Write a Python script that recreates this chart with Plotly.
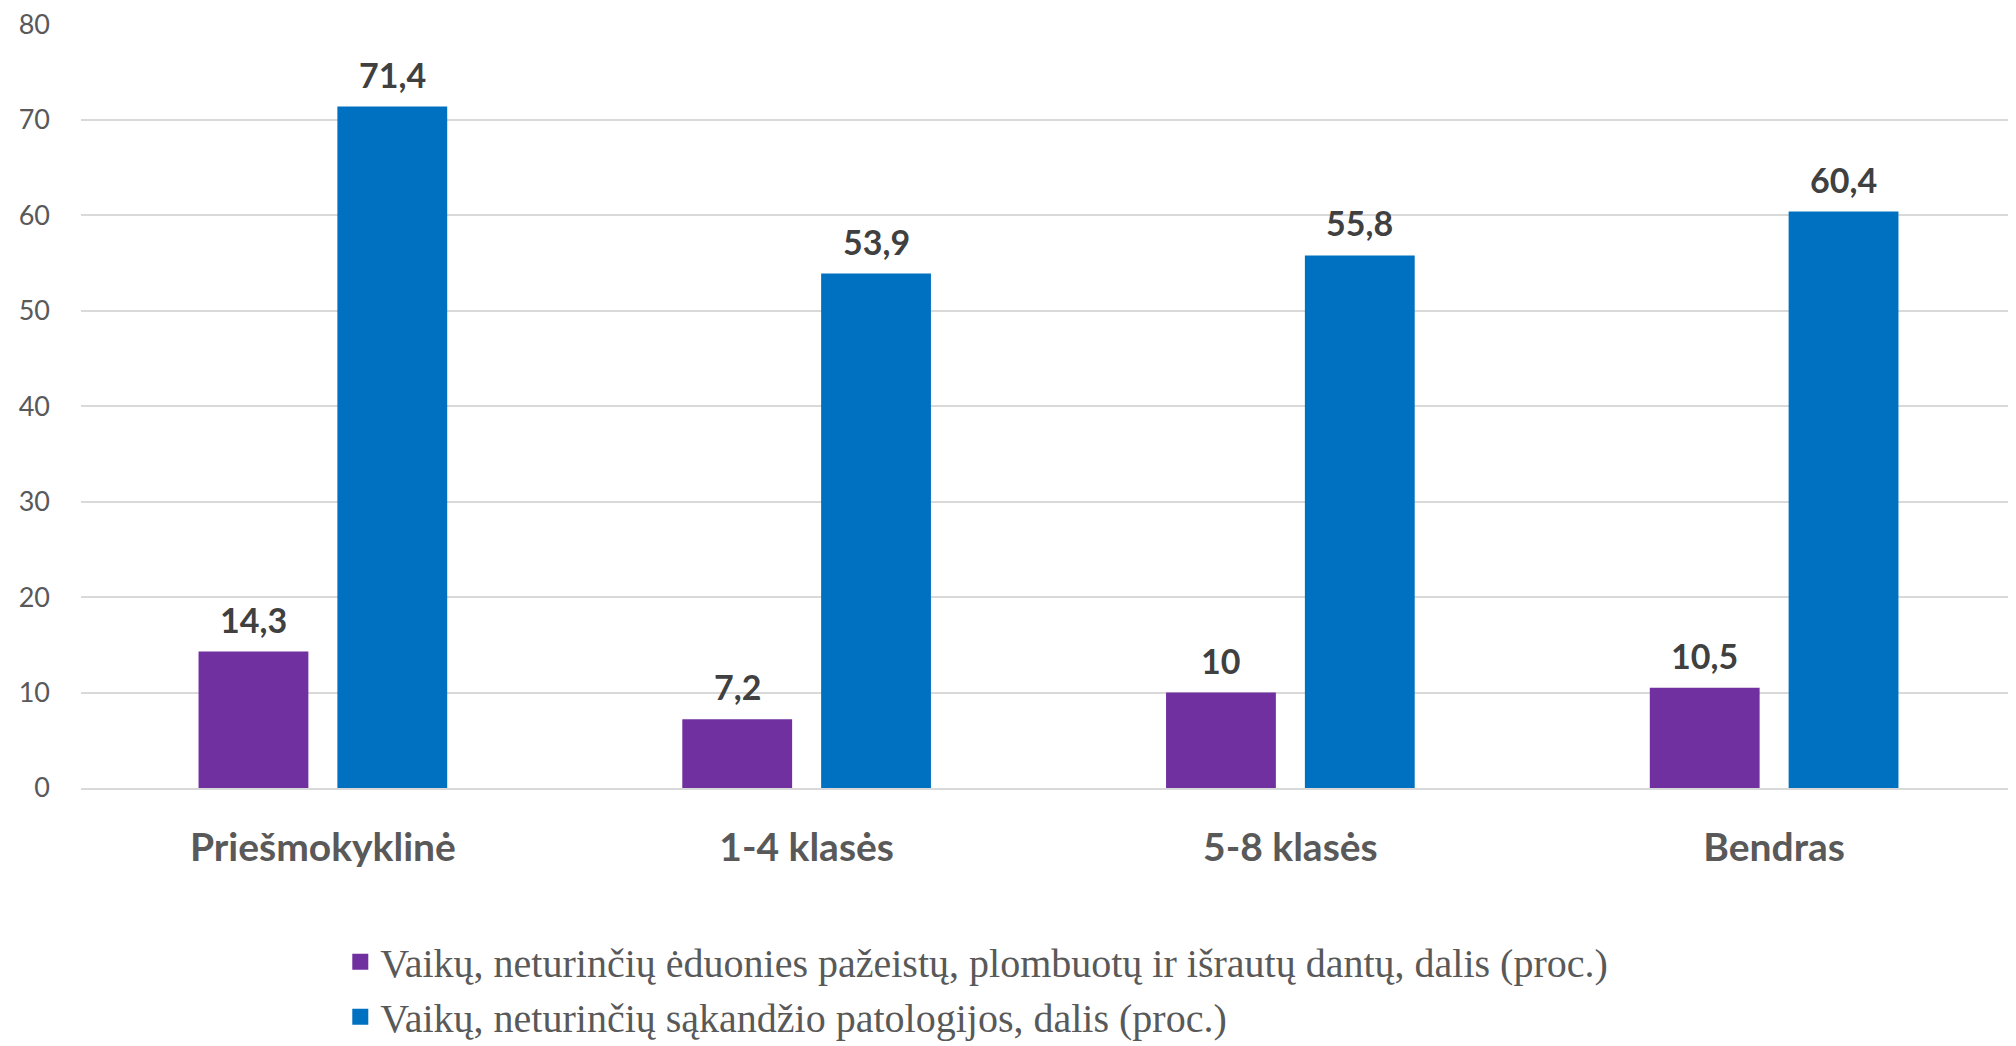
import plotly.graph_objects as go

categories = ["Priešmokyklinė", "1-4 klasės", "5-8 klasės", "Bendras"]
series1_name = "Vaikų, neturinčių ėduonies pažeistų, plombuotų ir išrautų dantų, dalis (proc.)"
series1_values = [14.3, 7.2, 10, 10.5]
series2_name = "Vaikų, neturinčių sąkandžio patologijos, dalis (proc.)"
series2_values = [71.4, 53.9, 55.8, 60.4]
y_ticks = [0, 10, 20, 30, 40, 50, 60, 70, 80]


def fmt(v):
    s = ("%.1f" % v).rstrip("0").rstrip(".")
    return s.replace(".", ",")


# page body has an 8px margin; compensate so the figure fills the window
W, H = 2008, 1038
ML, MR, MT, MB = 73, 0, 16, 258
BARGAP, GROUPGAP = 0.426, 0.209

fig = go.Figure()
series = [
    (series1_name, series1_values, "#7030A0", "a"),
    (series2_name, series2_values, "#0070C0", "b"),
]
for name, vals, color, grp in series:
    fig.add_trace(go.Bar(
        x=categories, y=vals, name=name, marker_color=color,
        marker_line_width=0, showlegend=False,
    ))
# legend entries with larger square keys
for name, vals, color, grp in series:
    fig.add_trace(go.Scatter(
        x=[None], y=[None], mode="markers", name=name, legendgroup=grp,
        marker=dict(symbol="square", size=17, color=color),
        showlegend=True,
    ))

cat_w = (W - ML - MR) / len(categories)
slot = (1 - BARGAP) * cat_w / len(series)
annotations = []
for i, (name, vals, color, grp) in enumerate(series):
    shift = (i - (len(series) - 1) / 2) * slot
    for c, v in zip(categories, vals):
        annotations.append(dict(
            x=c, y=v, xref="x", yref="y", text="<b>%s</b>" % fmt(v),
            showarrow=False, xanchor="center", yanchor="bottom",
            xshift=shift, yshift=10,
            font=dict(family="Lato", size=34, color="#404040"),
        ))

fig.update_layout(
    width=W, height=H,
    margin=dict(l=ML, r=MR, t=MT, b=MB, autoexpand=False),
    paper_bgcolor="white", plot_bgcolor="white",
    barmode="group", bargap=BARGAP, bargroupgap=GROUPGAP,
    showlegend=True,
    annotations=annotations,
    legend=dict(
        x=0.134, y=-0.185,
        xanchor="left", yanchor="top",
        font=dict(family="Liberation Serif", size=40, color="#595959"),
        traceorder="normal", tracegroupgap=24, itemwidth=30,
        bgcolor="rgba(0,0,0,0)",
    ),
    xaxis=dict(
        showgrid=False, showline=True, linecolor="#D9D9D9", linewidth=2,
        ticks="", ticklabelstandoff=24, tickangle=0,
        tickfont=dict(family="Lato", size=39, color="#595959", weight="bold"),
    ),
    yaxis=dict(
        range=[0, 80.05], tickvals=y_ticks, showgrid=True, gridcolor="#D9D9D9",
        gridwidth=2, zeroline=False, showline=False, ticks="",
        ticklabelstandoff=30, ticklabeloverflow="allow",
        tickfont=dict(family="Lato", size=27, color="#595959"),
    ),
)

fig.write_html("out.html")
